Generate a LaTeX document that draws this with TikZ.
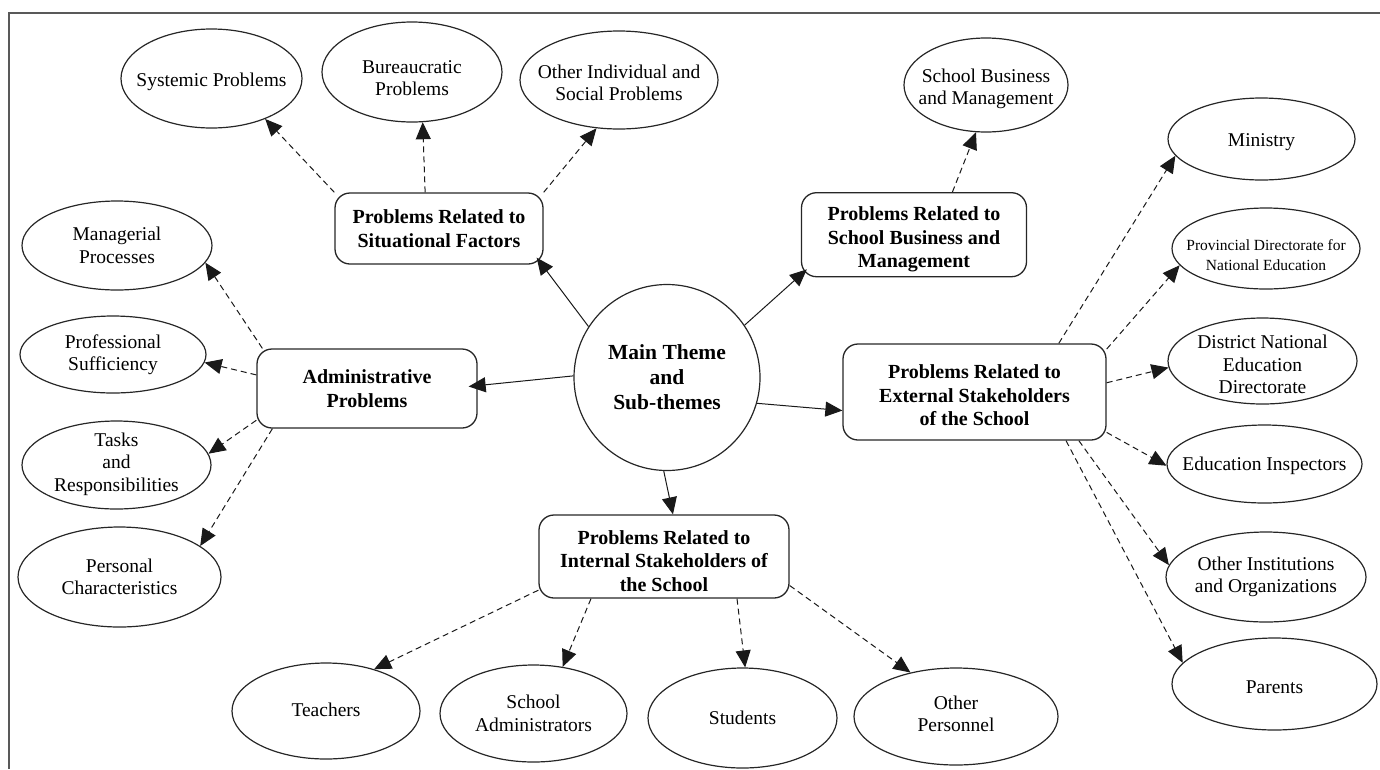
\documentclass[tikz,border=0pt]{standalone}
\usepackage{fontspec}
\setmainfont{Liberation Serif}
\usetikzlibrary{shapes.geometric,arrows.meta,calc}
\begin{document}
\begin{tikzpicture}[x=1pt,y=-1pt,
  ell/.style={draw=black!85, line width=1.2pt, ellipse, inner sep=0pt},
  lbl/.style={font=\fontsize{19.5}{22.5}\selectfont, align=center, inner sep=0pt, text=black},
  slbl/.style={font=\fontsize{15.5}{20}\selectfont, align=center, inner sep=0pt, text=black},
  box/.style={draw=black!85, rounded corners=15pt, line width=1.3pt, inner sep=0pt},
  btxt/.style={align=center, inner sep=0pt, text=black, font=\bfseries\fontsize{20}{23.5}\selectfont},
  mainc/.style={draw=black!85, circle, line width=1.2pt, inner sep=0pt, align=center, font=\bfseries\fontsize{21.5}{25}\selectfont},
  sol/.style={line width=1pt, draw=black!90, -{Triangle[length=17pt,width=15pt]}},
  dsh/.style={sol, dash pattern=on 6pt off 4pt}
]
\useasboundingbox (0,0) rectangle (1380,769);
\draw[line width=2pt, black!65] (1380,13) -- (9,13) -- (9,769);

% central circle
\node[mainc, minimum size=186pt] (main) at (667,377.5) {Main Theme\\and\\Sub-themes};

% boxes
\node[box, minimum width=208pt, minimum height=71pt, label={[btxt]center:{Problems Related to\\Situational Factors}}] (sit) at (439,228.5) {};
\node[box, minimum width=220pt, minimum height=79pt, label={[btxt]center:{Administrative\\Problems}}] (adm) at (367,388.5) {};
\node[box, minimum width=225pt, minimum height=84pt, label={[btxt, yshift=-5pt]center:{Problems Related to\\School Business and\\Management}}] (bus) at (914,234.7) {};
\node[box, minimum width=250pt, minimum height=83pt, label={[btxt, yshift=-4.5pt]center:{Problems Related to\\Internal Stakeholders of\\the School}}] (int) at (664,556.5) {};
\node[box, minimum width=263pt, minimum height=96pt, label={[btxt, yshift=-3.5pt]center:{Problems Related to\\External Stakeholders\\of the School}}] (ext) at (974.5,392) {};

% ellipses
\node[ell, minimum width=181pt, minimum height=99pt, label={[lbl, yshift=-3pt]center:{Systemic Problems}}] (sys) at (211.5,78.5) {};
\node[ell, minimum width=180pt, minimum height=100pt, label={[lbl, yshift=-6pt]center:{Bureaucratic\\Problems}}] (bur) at (412,72) {};
\node[ell, minimum width=198pt, minimum height=98pt, label={[lbl, yshift=-3pt]center:{Other Individual and\\Social Problems}}] (oth) at (619,80) {};
\node[ell, minimum width=164pt, minimum height=94pt, label={[lbl, yshift=-4pt]center:{School Business\\and Management}}] (sbm) at (986,85) {};
\node[ell, minimum width=187pt, minimum height=82pt, label={[lbl, yshift=-3pt]center:{Ministry}}] (min) at (1261.5,139) {};
\node[ell, minimum width=188pt, minimum height=81pt, label={[slbl, yshift=-6.5pt]center:{Provincial Directorate for\\National Education}}] (pro) at (1266,248.5) {};
\node[ell, minimum width=189pt, minimum height=86pt, label={[lbl, yshift=-3.5pt]center:{District National\\Education\\Directorate}}] (dis) at (1262.5,361) {};
\node[ell, minimum width=195pt, minimum height=78pt, label={[lbl, yshift=-2pt]center:{Education Inspectors}}] (ins) at (1264.5,464) {};
\node[ell, minimum width=200pt, minimum height=90pt, label={[lbl]center:{Other Institutions\\and Organizations}}] (oin) at (1266,577) {};
\node[ell, minimum width=205pt, minimum height=92pt, label={[lbl, yshift=-3pt]center:{Parents}}] (par) at (1274.5,684) {};
\node[ell, minimum width=190pt, minimum height=89pt, label={[lbl]center:{Managerial\\Processes}}] (man) at (117,245.5) {};
\node[ell, minimum width=186pt, minimum height=77pt, label={[lbl]center:{Professional\\Sufficiency}}] (prf) at (113,354.5) {};
\node[ell, minimum width=189pt, minimum height=88pt, label={[lbl, yshift=1pt]center:{Tasks\\and\\Responsibilities}}] (tas) at (116.5,465) {};
\node[ell, minimum width=203pt, minimum height=100pt, label={[lbl]center:{Personal\\Characteristics}}] (per) at (119.5,577) {};
\node[ell, minimum width=188pt, minimum height=96pt, label={[lbl, yshift=1.5pt]center:{Teachers}}] (tea) at (326,711) {};
\node[ell, minimum width=187pt, minimum height=97pt, label={[lbl]center:{School\\Administrators}}] (sad) at (533.5,713.5) {};
\node[ell, minimum width=189pt, minimum height=100pt, label={[lbl]center:{Students}}] (stu) at (742.5,718) {};
\node[ell, minimum width=204pt, minimum height=97pt, label={[lbl, yshift=2.5pt]center:{Other\\Personnel}}] (ope) at (956,716.5) {};

% solid connectors
\draw[sol] (main.147) -- ($(sit.south east)+(-7,-7)$);
\draw[sol] (main.34) -- ($(bus.south west)+(6,-8)$);
\draw[sol] (main.179) -- ($(adm.east)+(-9,-2)$);
\draw[sol] (main.344) -- (ext.188);
\draw[sol] (main.268) -- (int.78);

% dashed connectors
\draw[dsh] (sit.north west) -- (sys.323);
\draw[dsh] (sit.111) -- (bur.282);
\draw[dsh] (sit.north east) -- (oth.245);
\draw[dsh] (bus.48) -- (sbm.258);
\draw[dsh] (adm.159) -- (man.349);
\draw[dsh] (adm.173) -- (prf.355);
\draw[dsh] (adm.196) -- (tas.7);
\draw[dsh] (adm.203) -- (per.21);
\draw[dsh] (int.195) -- (tea.41);
\draw[dsh] (int.210) -- (sad.58);
\draw[dsh] (int.330) -- (stu.87);
\draw[dsh] (int.347) -- (ope.136);
\draw[dsh] (ext.30) -- (min.191);
\draw[dsh] (ext.18) -- (pro.191);
\draw[dsh] (ext.4) -- (dis.184);
\draw[dsh] (ext.343) -- (ins.181);
\draw[dsh] (ext.335) -- (oin.173);
\draw[dsh] (ext.332) -- (par.167);
\end{tikzpicture}
\end{document}
